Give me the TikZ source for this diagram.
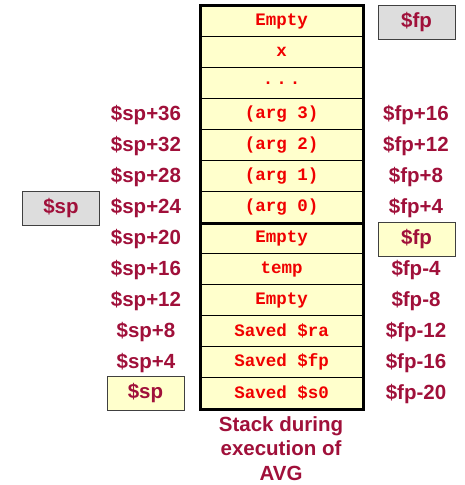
\documentclass[tikz,border=0pt]{standalone}
\usepackage{fontspec}
\setmainfont{Liberation Sans}
\newfontfamily\codefont{Liberation Mono}
\definecolor{labelred}{HTML}{A0103A}
\definecolor{codered}{HTML}{F00000}
\definecolor{cellfill}{HTML}{FFFFCC}
\definecolor{boxgray}{HTML}{DDDDDD}
\tikzset{
  cell/.style={draw=black, line width=1.2pt, fill=cellfill, minimum width=162pt,
    minimum height=31pt, inner sep=0pt, anchor=north west,
    font=\codefont\fontsize{17.5}{19}\selectfont\bfseries, text=codered},
  addr/.style={font=\fontsize{20.5}{22}\selectfont\bfseries, text=labelred, inner sep=0pt},
  regbox/.style={draw=black!75, line width=0.8pt, minimum width=77pt, minimum height=34pt,
    inner sep=0pt, font=\fontsize{20.5}{22}\selectfont\bfseries, text=labelred},
  caption/.style={font=\fontsize{20.5}{24.5}\selectfont\bfseries, text=labelred, align=center}
}
\begin{document}
\begin{tikzpicture}[x=1pt, y=-1pt]
\useasboundingbox (0,0) rectangle (464,485);
% stack cells, top to bottom
\foreach \i/\t/\n in {0/Empty/c0, 1/x/c1, 2/.\,.\,./c2, 3/(arg 3)/c3, 4/(arg 2)/c4,
  5/(arg 1)/c5, 6/(arg 0)/c6, 7/Empty/c7, 8/temp/c8, 9/Empty/c9,
  10/Saved \$ra/c10, 11/Saved \$fp/c11, 12/Saved \$s0/c12}
  \node[cell] (\n) at (200, 5+31*\i) {\t};
% outer frame and frame boundary
\draw[line width=3pt] (c0.north west) rectangle (c12.south east);
\draw[line width=3pt] (c6.south west) -- (c6.south east);
% $sp offsets
\foreach \i/\t in {3/36, 4/32, 5/28, 6/24, 7/20, 8/16, 9/12, 10/8, 11/4}
  \node[addr] (sp\i) at (146, 22+31*\i) {\$sp+\t};
% $fp offsets
\foreach \i/\t in {3/+16, 4/+12, 5/+8, 6/+4, 8/-4, 9/-8, 10/-12, 11/-16, 12/-20}
  \node[addr] (fp\i) at (416, 22+31*\i) {\$fp\t};
% register pointers
\node[regbox, fill=boxgray] (oldfp) at (416.5, 22) {\$fp};
\node[regbox, fill=boxgray] (oldsp) at (61, 208) {\$sp};
\node[regbox, fill=cellfill] (newfp) at (416.5, 239) {\$fp};
\node[regbox, fill=cellfill] (newsp) at (145.5, 393) {\$sp};
% caption
\node[caption, anchor=north] (cap) at (281, 413) {Stack during\\execution of\\AVG};
\end{tikzpicture}
\end{document}
